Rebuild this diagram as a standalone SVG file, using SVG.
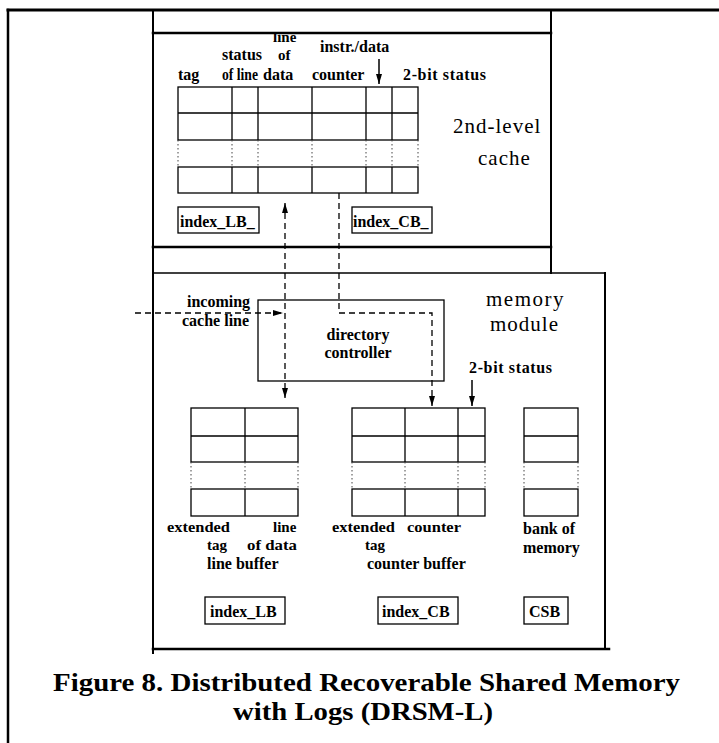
<svg xmlns="http://www.w3.org/2000/svg" width="719" height="743" viewBox="0 0 719 743">
<style>
.frame{fill:none;stroke:#000;stroke-linecap:square}
.cell{fill:none;stroke:#000;stroke-width:1.3}
.dot{fill:none;stroke:#444;stroke-width:1;stroke-dasharray:1.5 2.5}
.lbl{font-family:"Liberation Serif","Times New Roman",serif;font-weight:bold;font-size:16px;fill:#000}
.sm{font-size:15px}
.big{font-family:"Liberation Serif","Times New Roman",serif;font-size:21px;fill:#000}
.cap{font-family:"Liberation Serif","Times New Roman",serif;font-weight:bold;font-size:26px;fill:#000}
.dash{fill:none;stroke:#000;stroke-width:1.3;stroke-dasharray:6 4}
.solid{fill:none;stroke:#000;stroke-width:1.5}
</style>
<defs>
<marker id="ah" viewBox="0 0 10 6" refX="10" refY="3" markerWidth="10" markerHeight="6" markerUnits="userSpaceOnUse" orient="auto-start-reverse">
<path d="M0,0 L10,3 L0,6 z" fill="#000"/>
</marker>
</defs>
<rect width="719" height="743" fill="#fff"/>

<g id="frame">
<path class="frame" d="M8,10 H719" stroke-width="3"/>
<path class="frame" d="M8,10 V743" stroke-width="2.5"/>
<path class="frame" d="M153,10 V653" stroke-width="2"/>
</g>

<g id="cache">
<path class="frame" d="M153,33 H551 M153,247 H551" stroke-width="2.5"/>
<path class="frame" d="M551,10 V273" stroke-width="2"/>
<text class="big" x="453" y="133" letter-spacing="1">2nd-level</text>
<text class="big" x="478" y="165" letter-spacing="1">cache</text>
</g>

<g id="cache-table">
<rect class="cell" x="178" y="87" width="240" height="53"/>
<path class="cell" d="M178,113 H418 M232,87 V140 M258,87 V140 M312,87 V140 M366,87 V140 M392,87 V140"/>
<path class="dot" d="M178,140 V167 M232,140 V167 M258,140 V167 M312,140 V167 M366,140 V167 M392,140 V167 M418,140 V167"/>
<rect class="cell" x="178" y="167" width="240" height="26"/>
<path class="cell" d="M232,167 V193 M258,167 V193 M312,167 V193 M366,167 V193 M392,167 V193"/>
<text class="lbl" x="178" y="80">tag</text>
<text class="lbl" x="222" y="60">status</text>
<text class="lbl" x="222" y="80" textLength="36" lengthAdjust="spacingAndGlyphs">of line</text>
<text class="lbl sm" x="273" y="42">line</text>
<text class="lbl sm" x="278" y="60">of</text>
<text class="lbl" x="263" y="80">data</text>
<text class="lbl" x="320" y="52">instr./data</text>
<text class="lbl" x="312" y="80">counter</text>
<text class="lbl" x="403" y="80" textLength="83" lengthAdjust="spacing">2-bit status</text>
</g>

<g id="index-lb-cache">
<rect class="cell" x="178" y="207" width="81" height="26"/>
<text class="lbl" x="180" y="227">index_LB_</text>
</g>
<g id="index-cb-cache">
<rect class="cell" x="352" y="207" width="80" height="26"/>
<text class="lbl" x="353" y="227">index_CB_</text>
</g>

<g id="memory-module">
<path class="frame" d="M153,273 H605" stroke-width="1.5"/>
<path class="frame" d="M605,273 V649" stroke-width="2"/>
<path class="frame" d="M153,649 H609" stroke-width="2.5"/>
<text class="big" x="486" y="306" font-size="22" letter-spacing="1.5">memory</text>
<text class="big" x="490" y="331" font-size="22" letter-spacing="1">module</text>
<text class="lbl" x="469" y="373" textLength="83" lengthAdjust="spacing">2-bit status</text>
<text class="lbl" x="187" y="307">incoming</text>
<text class="lbl" x="182" y="326">cache line</text>
</g>

<g id="directory-controller">
<rect class="cell" x="258" y="300" width="186" height="81"/>
<text class="lbl" x="358" y="340" text-anchor="middle">directory</text>
<text class="lbl" x="358" y="358" text-anchor="middle">controller</text>
</g>

<g id="line-buffer">
<rect class="cell" x="191" y="408" width="107" height="54"/>
<path class="cell" d="M191,436 H298 M245,408 V462"/>
<path class="dot" d="M191,462 V489 M245,462 V489 M298,462 V489"/>
<rect class="cell" x="191" y="489" width="107" height="27"/>
<path class="cell" d="M245,489 V516"/>
<text class="lbl sm" x="167" y="532" textLength="63" lengthAdjust="spacingAndGlyphs">extended</text>
<text class="lbl sm" x="273" y="532">line</text>
<text class="lbl sm" x="207" y="550">tag</text>
<text class="lbl sm" x="247" y="550" textLength="50" lengthAdjust="spacingAndGlyphs">of data</text>
<text class="lbl" x="207" y="569">line buffer</text>
</g>

<g id="counter-buffer">
<rect class="cell" x="352" y="408" width="133" height="54"/>
<path class="cell" d="M352,436 H485 M405,408 V462 M458,408 V462"/>
<path class="dot" d="M352,462 V489 M405,462 V489 M458,462 V489 M485,462 V489"/>
<rect class="cell" x="352" y="489" width="133" height="27"/>
<path class="cell" d="M405,489 V516 M458,489 V516"/>
<text class="lbl sm" x="332" y="532" textLength="63" lengthAdjust="spacingAndGlyphs">extended</text>
<text class="lbl sm" x="407" y="532" textLength="54" lengthAdjust="spacingAndGlyphs">counter</text>
<text class="lbl sm" x="365" y="550">tag</text>
<text class="lbl" x="367" y="569">counter buffer</text>
</g>

<g id="bank-of-memory">
<rect class="cell" x="524" y="408" width="54" height="54"/>
<path class="cell" d="M524,436 H578"/>
<path class="dot" d="M524,462 V489 M578,462 V489"/>
<rect class="cell" x="524" y="489" width="54" height="27"/>
<text class="lbl" x="523" y="534">bank of</text>
<text class="lbl" x="523" y="553">memory</text>
</g>

<g id="index-lb">
<rect class="cell" x="205" y="597" width="80" height="27"/>
<text class="lbl" x="210" y="617">index_LB</text>
</g>
<g id="index-cb">
<rect class="cell" x="378" y="597" width="80" height="27"/>
<text class="lbl" x="382" y="617">index_CB</text>
</g>
<g id="csb">
<rect class="cell" x="524" y="597" width="44" height="27"/>
<text class="lbl" x="529" y="617">CSB</text>
</g>

<g id="connectors">
<path class="dash" d="M285,203 V398" marker-start="url(#ah)" marker-end="url(#ah)"/>
<path class="dash" d="M339,193 V313 H432 V406" marker-end="url(#ah)"/>
<path class="dash" d="M135,313 H283" marker-end="url(#ah)"/>
<path class="solid" d="M379,59 V84" marker-end="url(#ah)"/>
<path class="solid" d="M472,380 V406" marker-end="url(#ah)"/>
</g>

<g id="caption">
<text class="cap" x="53" y="691" textLength="627" lengthAdjust="spacingAndGlyphs">Figure 8. Distributed Recoverable Shared Memory</text>
<text class="cap" x="233" y="720" textLength="260" lengthAdjust="spacingAndGlyphs">with Logs (DRSM-L)</text>
</g>
</svg>
